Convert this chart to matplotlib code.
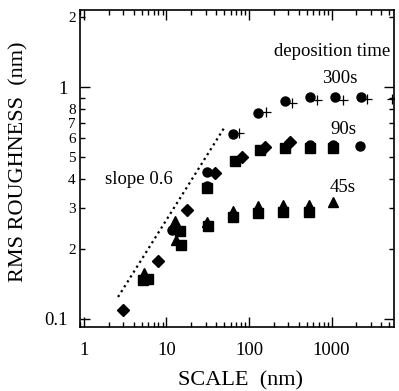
import matplotlib
matplotlib.use("Agg")
import matplotlib.pyplot as plt
from matplotlib.ticker import NullFormatter, LogLocator

plt.rcParams['font.family'] = ['Liberation Serif', 'DejaVu Serif']

# 300s deposition: circles and crosses
c300_x = [11.8, 30.7, 63.5, 129.7, 273, 549, 1103, 2259]
c300_y = [0.242, 0.431, 0.624, 0.776, 0.870, 0.906, 0.906, 0.906]
p300_x = [76.3, 160.7, 329, 673, 1367, 2717, 5367]
p300_y = [0.635, 0.782, 0.856, 0.879, 0.879, 0.885, 0.885]

# 90s deposition: diamonds, squares, circles
d90_x = [3.0, 7.95, 17.6, 38.7, 81.5, 156.3, 314]
d90_y = [0.109, 0.178, 0.293, 0.425, 0.501, 0.553, 0.581]
s90_x = [30.7, 67.7, 135.9, 273, 549, 1051]
s90_y = [0.366, 0.480, 0.535, 0.544, 0.548, 0.548]
c90_x = [30.7, 549, 1051, 2216]
c90_y = [0.372, 0.560, 0.560, 0.558]

# 45s deposition: triangles and squares
t45_x = [5.38, 12.7, 13.0, 31.0, 63.5, 129.7, 260.5, 533.7, 1034]
t45_y = [0.157, 0.263, 0.219, 0.262, 0.292, 0.307, 0.310, 0.310, 0.320]
s45_x = [5.23, 6.02, 14.6, 14.9, 32.1, 63.5, 129.7, 260.5, 533.7]
s45_y = [0.147, 0.148, 0.238, 0.208, 0.252, 0.275, 0.286, 0.289, 0.289]

# slope 0.6 guide line
slope_x = [2.6, 49.8]
slope_y = [0.124, 0.664]

fig = plt.figure(figsize=(3.99, 3.91), dpi=100)
ax = fig.add_axes([0.2005, 0.1637, 0.787, 0.8107])

ax.plot(slope_x, slope_y, linestyle=(0, (1, 1.6)), color='black', linewidth=1.6)

ax.plot(s45_x, s45_y, 's', color='black', markersize=6.5, linestyle='none')
ax.plot(t45_x, t45_y, '^', color='black', markersize=6.5, linestyle='none')
ax.plot(s90_x, s90_y, 's', color='black', markersize=6.5, linestyle='none')
ax.plot(c90_x, c90_y, 'o', color='black', markersize=6.5, linestyle='none')
ax.plot(d90_x, d90_y, 'D', color='black', markersize=5.8, linestyle='none')
ax.plot(c300_x, c300_y, 'o', color='black', markersize=6.5, linestyle='none')
ax.plot(p300_x, p300_y, '+', color='black', markersize=6.5, markeredgewidth=0.9,
        linestyle='none')

ax.set_xscale('log')
ax.set_yscale('log')
ax.set_xlim(0.9, 5700)
ax.set_ylim(0.092, 2.15)

ax.set_xticks([1, 10, 100, 1000], labels=['1', '10', '100', '1000'])
ax.xaxis.set_minor_locator(LogLocator(base=10, subs=range(2, 10)))
ax.xaxis.set_minor_formatter(NullFormatter())

ax.set_yticks([0.1, 1], labels=['0.1', '1'])
ax.set_yticks([0.2, 0.3, 0.4, 0.5, 0.6, 0.7, 0.8, 0.9, 2],
              labels=['2', '3', '4', '5', '6', '7', '8', '', '2'], minor=True)

ax.tick_params(which='both', direction='in', top=True, right=True, width=1)
ax.tick_params(which='major', length=7, labelsize=13.5)
ax.tick_params(which='minor', length=3.5)
ax.tick_params(axis='x', which='major', pad=10.5)
ax.tick_params(axis='y', which='major', pad=9)
ax.tick_params(axis='y', which='minor', pad=3, labelsize=11)
for s in ax.spines.values():
    s.set_linewidth(1.2)

ax.text(1.8, 0.40, 'slope 0.6', fontsize=13.5, va='center', ha='left')
ax.text(1014, 1.42, 'deposition time', fontsize=13.5, va='center', ha='center')
ax.text(1268, 1.09, '300s', fontsize=13.5, va='center', ha='center')
ax.text(1390, 0.653, '90s', fontsize=13.5, va='center', ha='center')
ax.text(1367, 0.37, '45s', fontsize=13.5, va='center', ha='center')

ax.set_xlabel('SCALE  (nm)', fontsize=16)
ax.set_ylabel('RMS ROUGHNESS  (nm)', fontsize=16)
ax.xaxis.set_label_coords(0.51, -0.139)
ax.yaxis.set_label_coords(-0.163, 0.52)

fig.savefig('out.png', dpi=100)
